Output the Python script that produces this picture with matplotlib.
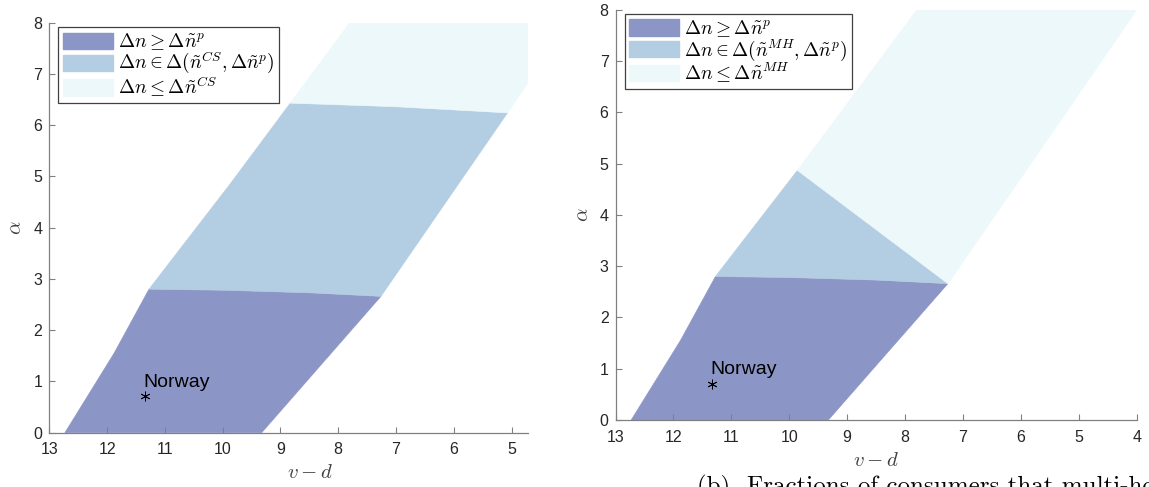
import matplotlib.pyplot as plt
from matplotlib.patches import Patch

plt.rcParams['mathtext.fontset'] = 'cm'
plt.rcParams['font.family'] = ['Liberation Sans', 'DejaVu Sans']

# region colours (dark -> light)
c_dark = '#8c96c6'
c_mid = '#b3cde3'
c_light = '#edf8fb'

# outer edges of the feasible band (v-d, alpha)
left_edge_x = [12.73, 11.88, 11.275, 9.86, 8.83, 7.80]
left_edge_y = [0.0, 1.55, 2.80, 4.87, 6.43, 8.0]
right_edge_x = [9.324, 7.26, 5.07, 4.72, 4.0]
right_edge_y = [0.0, 2.66, 6.24, 6.82, 8.0]

# boundary between dark and middle regions
pn_x = [11.275, 10.0, 8.5, 7.26]
pn_y = [2.80, 2.78, 2.73, 2.66]

# boundary between middle and light regions, CS case
cs_x = [8.83, 7.0, 5.07]
cs_y = [6.43, 6.36, 6.24]

# apex of the middle region, MH case
mh_apex = (9.86, 4.87)

norway = (11.34, 0.71)

labels_cs = [r'$\Delta n \geq \Delta\tilde{n}^{p}$',
             r'$\Delta n \in \Delta(\tilde{n}^{CS},\Delta\tilde{n}^{p})$',
             r'$\Delta n \leq \Delta\tilde{n}^{CS}$']
labels_mh = [r'$\Delta n \geq \Delta\tilde{n}^{p}$',
             r'$\Delta n \in \Delta(\tilde{n}^{MH},\Delta\tilde{n}^{p})$',
             r'$\Delta n \leq \Delta\tilde{n}^{MH}$']

axis_grey = '#808080'
text_grey = '#262626'


def fill(ax, xs, ys, color):
    ax.fill(xs, ys, facecolor=color, edgecolor=color, linewidth=0.4)


def dark_region(ax):
    xs = left_edge_x[:3] + pn_x[1:] + right_edge_x[:2][::-1]
    ys = left_edge_y[:3] + pn_y[1:] + right_edge_y[:2][::-1]
    fill(ax, xs, ys, c_dark)


def style(ax, xmax, ticks, ylab_x, xlab_x):
    ax.set_xlim(13, xmax)
    ax.set_ylim(0, 8)
    ax.set_xticks(ticks)
    ax.set_yticks(range(0, 9))
    for s in ['top', 'right']:
        ax.spines[s].set_visible(False)
    for s in ['left', 'bottom']:
        ax.spines[s].set_color(axis_grey)
        ax.spines[s].set_linewidth(0.9)
    ax.tick_params(direction='in', length=4, width=0.8, color=axis_grey,
                   labelcolor=text_grey, labelsize=11.5)
    ax.tick_params(axis='x', pad=7)
    ax.tick_params(axis='y', pad=5)
    ax.set_xlabel(r'$v - d$', fontsize=15, color='#404040', va='center')
    ax.set_ylabel(r'$\alpha$', fontsize=15, color='#404040', va='center')
    ax.xaxis.set_label_coords(xlab_x, -0.098)
    ax.yaxis.set_label_coords(ylab_x, 0.5)
    ax.plot(*norway, marker=(6, 2, 0), color='k', markersize=7,
            markeredgewidth=0.6, linestyle='none', zorder=5)
    ax.text(norway[0] + 0.03, 0.98, 'Norway', fontsize=14, va='center',
            ha='left', color='k', zorder=5)


def legend(ax, labels, x0, y0):
    handles = [Patch(facecolor=c, edgecolor=c) for c in (c_dark, c_mid, c_light)]
    leg = ax.legend(handles, labels, loc='upper left', bbox_to_anchor=(x0, y0),
                    borderaxespad=0, fontsize=14, handlelength=2.6,
                    handleheight=0.9, handletextpad=0.25, labelspacing=-0.1,
                    borderpad=0.22, fancybox=False, framealpha=1)
    leg.get_frame().set_edgecolor('#404040')
    leg.get_frame().set_linewidth(0.9)


fig = plt.figure(figsize=(11.49, 4.87), dpi=100)

# left panel: CS
ax1 = fig.add_axes([0.0429, 0.1115, 0.4164, 0.8419])
dark_region(ax1)
fill(ax1, [pn_x[0]] + left_edge_x[3:5] + cs_x[1:] + right_edge_x[1:2] + pn_x[::-1][1:-1],
     [pn_y[0]] + left_edge_y[3:5] + cs_y[1:] + right_edge_y[1:2] + pn_y[::-1][1:-1], c_mid)
fill(ax1, [cs_x[0], left_edge_x[5]] + right_edge_x[4:1:-1] + cs_x[::-1][:-1],
     [cs_y[0], left_edge_y[5]] + right_edge_y[4:1:-1] + cs_y[::-1][:-1], c_light)
style(ax1, 4.72, range(13, 4, -1), -0.071, 0.545)
legend(ax1, labels_cs, 0.0188, 0.9888)

# right panel: MH
ax2 = fig.add_axes([0.5357, 0.1376, 0.4536, 0.8419])
dark_region(ax2)
fill(ax2, [pn_x[0], mh_apex[0]] + pn_x[::-1][:-1],
     [pn_y[0], mh_apex[1]] + pn_y[::-1][:-1], c_mid)
fill(ax2, [mh_apex[0]] + left_edge_x[4:] + right_edge_x[4:0:-1],
     [mh_apex[1]] + left_edge_y[4:] + right_edge_y[4:0:-1], c_light)
style(ax2, 4.0, range(13, 3, -1), -0.063, 0.5)
legend(ax2, labels_mh, 0.0173, 0.990)

# subfigure caption, running off the bottom edge
fig.text(0.607, -0.013, '(b)  Fractions of consumers that multi-home',
         family='cmr10', fontsize=18, va='baseline', ha='left')

fig.savefig('out.png', dpi=100)
